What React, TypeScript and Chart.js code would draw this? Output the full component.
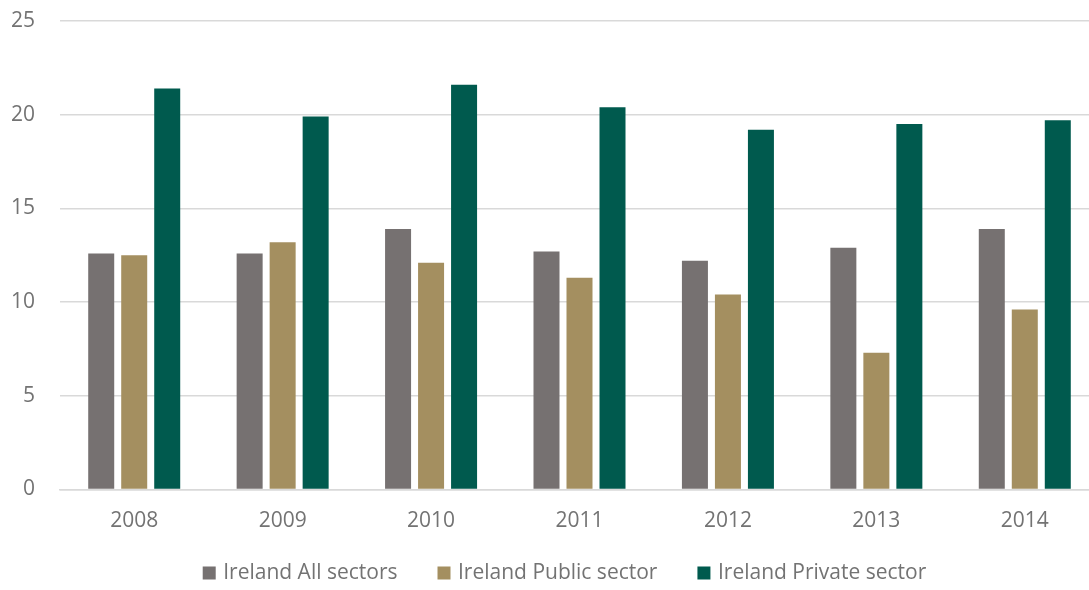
import React, { useEffect, useRef } from "react";
import { Chart, registerables } from "chart.js";

Chart.register(...registerables);

const categories = ["2008", "2009", "2010", "2011", "2012", "2013", "2014"];
const allSectors = [12.6, 12.6, 13.9, 12.7, 12.2, 12.9, 13.9];
const publicSector = [12.5, 13.2, 12.1, 11.3, 10.4, 7.3, 9.6];
const privateSector = [21.4, 19.9, 21.6, 20.4, 19.2, 19.5, 19.7];
const seriesNames = ["Ireland All sectors", "Ireland Public sector", "Ireland Private sector"];
const seriesColors = ["#767171", "#A48F60", "#005A4E"];

const FONT = "'Open Sans', 'Noto Sans', sans-serif";
const TEXT = "#737373";

export default function App() {
  const ref = useRef<HTMLCanvasElement | null>(null);

  useEffect(() => {
    document.body.style.margin = "0";
    const canvas = ref.current;
    if (!canvas) return;
    const chart = new Chart(canvas, {
      type: "bar",
      data: {
        labels: categories,
        datasets: [allSectors, publicSector, privateSector].map((d, i) => ({
          label: seriesNames[i],
          data: d,
          backgroundColor: seriesColors[i],
          borderWidth: 0,
          categoryPercentage: 0.667,
          barPercentage: 0.788,
        })),
      },
      options: {
        animation: false,
        responsive: false,
        devicePixelRatio: 1,
        layout: { padding: { top: 21, bottom: -3.5, left: 0, right: 0 } },
        plugins: {
          tooltip: { enabled: false },
          legend: {
            position: "bottom",
            labels: {
              font: { family: FONT, size: 21 },
              color: TEXT,
              usePointStyle: true,
              pointStyle: "rect",
              boxWidth: 7,
              boxHeight: 13,
              padding: 43,
            },
          },
        },
        scales: {
          x: {
            grid: { display: false, drawTicks: false },
            border: { display: true, color: "#d9d9d9", width: 1.5 },
            ticks: { font: { family: FONT, size: 21 }, color: TEXT, padding: 19 },
            afterFit: (s: any) => {
              s.height = 30;
              s._computeLabelArea = () => undefined;
            },
          },
          y: {
            min: 0,
            max: 25,
            ticks: { stepSize: 5, font: { family: FONT, size: 21 }, color: TEXT, padding: 25 },
            grid: { color: "#d9d9d9", lineWidth: 1.5, drawTicks: false },
            border: { display: false },
            afterFit: (s: any) => {
              s.width = 60;
              s.paddingTop = 0;
              s.paddingBottom = 0;
            },
          },
          y2: {
            position: "right",
            display: true,
            grid: { display: false, drawTicks: false },
            border: { display: false },
            ticks: { display: false },
            afterFit: (s: any) => {
              s.width = 33;
              s.paddingTop = 0;
              s.paddingBottom = 0;
            },
          },
        },
      },
    });
    return () => chart.destroy();
  }, []);

  return (
    <div style={{ position: "fixed", left: 0, top: 0, width: 1089, height: 590, overflow: "hidden", background: "#fff" }}>
      <canvas ref={ref} width={1132} height={590} style={{ width: 1132, height: 590, display: "block" }} />
    </div>
  );
}
